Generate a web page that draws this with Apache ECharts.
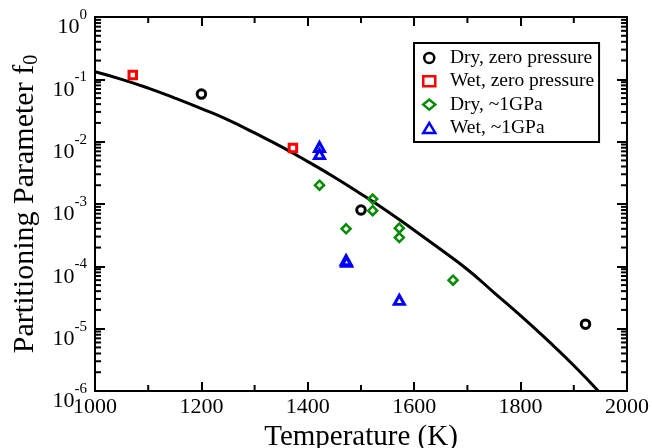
<!DOCTYPE html>
<html><head><meta charset="utf-8">
<script src="https://cdn.jsdelivr.net/npm/echarts@6/dist/echarts.min.js"></script>
<style>html,body{margin:0;padding:0;background:#fff}#c{width:652px;height:448px}</style>
</head><body><div id="c"></div>
<script>
// ---- data ----
const curveT = [1000,1050,1100,1150,1200,1250,1300,1350,1400,1450,1500,1550,1600,1650,1700,1750,1800,1850,1900,1946];
const curveF = [0.132,0.100,0.0724,0.0501,0.0339,0.0224,0.0138,0.00832,0.00479,0.00269,0.00145,7.6e-4,3.8e-4,1.86e-4,8.9e-5,3.8e-5,1.62e-5,6.6e-6,2.57e-6,1.0e-6];

const dryZeroT = [1200,1500,1922];
const dryZeroF = [0.058,8.0e-4,1.18e-5];
const wetZeroT = [1071,1372];
const wetZeroF = [0.117,0.0079];
const dryGPaT = [1422,1472,1522,1522,1572,1572,1673];
const dryGPaF = [0.0020,4.0e-4,1.2e-3,7.8e-4,4.1e-4,2.9e-4,6.0e-5];
const wetGPaT = [1422,1422,1472,1473,1572];
const wetGPaF = [0.0082,0.0063,1.25e-4,1.18e-4,2.9e-5];

const seriesNames = ['Dry, zero pressure','Wet, zero pressure','Dry, ~1GPa','Wet, ~1GPa'];
const xTickValues = [1000,1200,1400,1600,1800,2000];
const xMinorValues = [1100,1300,1500,1700,1900];
const yDecades = [-6,-5,-4,-3,-2,-1,0];
const yMinorMantissas = [2,3,4,5,6,7,8,9];

// ---- build ----
const serif = '"Liberation Serif", "Times New Roman", serif';
const zip = (a,b) => a.map((v,i)=>[v,b[i]]);
const xMin = xTickValues[0], xMax = xTickValues[xTickValues.length-1];
const yMin = 1e-6, yMax = 1;
const yMinor = [];
yDecades.slice(0,-1).forEach(e => yMinorMantissas.forEach(m => yMinor.push(Number((m*Math.pow(10,e)).toPrecision(3)))));

const black = '#000';
const lineSt = {color: black, width: 2};
function xAx(pos, labels) {
  return {
    type:'value', position:pos, min:xMin, max:xMax, interval:200,
    axisLine:{show:true, onZero:false, lineStyle:lineSt},
    axisTick:{show:true, inside:true, length:9, lineStyle:lineSt},
    minorTick:{show:false},
    axisLabel:{show:labels, fontSize:22, fontFamily:serif, color:black, margin:5, showMinLabel:true, showMaxLabel:true,
      formatter: v => String(v)},
    splitLine:{show:false}, minorSplitLine:{show:false}
  };
}
function yAx(pos, labels) {
  const a = {
    type:'log', logBase:10, position:pos, min:yMin, max:yMax,
    axisLine:{show:true, onZero:false, lineStyle:lineSt},
    axisTick:{show:true, inside:true, length:10, lineStyle:lineSt},
    axisLabel:{show:false},
    splitLine:{show:false}, minorTick:{show:false}, minorSplitLine:{show:false}
  };
  if (labels) {
    a.axisLabel = {
      show:true, margin:8, showMinLabel:true, showMaxLabel:true,
      padding:[12,0,0,0],
      formatter: v => '{b|10}{s|' + Math.round(Math.log10(v)) + '}',
      rich:{
        b:{fontSize:22, fontFamily:serif, color:black, padding:[9,0,0,0]},
        s:{fontSize:15, fontFamily:serif, color:black, verticalAlign:'top'}
      }
    };
    a.name = '{t|Partitioning Parameter f}{u|0}';
    a.nameLocation = 'middle';
    a.nameGap = 52;
    a.nameRotate = 90;
    a.nameTextStyle = {
      rich:{
        t:{fontSize:30, fontFamily:serif, color:black},
        u:{fontSize:20, fontFamily:serif, color:black, padding:[12,0,0,0]}
      }
    };
  }
  return a;
}

const xAxes = [xAx('bottom', true), xAx('top', false)];
xAxes[0].name = 'Temperature (K)';
xAxes[0].nameLocation = 'middle';
xAxes[0].nameGap = 15;
xAxes[0].nameTextStyle = {fontSize:29, fontFamily:serif, color:black};

// minor ticks: each item is one short segment located through the axis scales
function minorTickSeries(values, toPoint, dx, dy) {
  return {
    type:'custom', coordinateSystem:'cartesian2d', clip:false, silent:true,
    data: values.map(v => toPoint(v)),
    renderItem:(params, api) => {
      const p = api.coord([api.value(0), api.value(1)]);
      return {type:'line', shape:{x1:p[0], y1:p[1], x2:p[0]+dx, y2:p[1]+dy},
              style:{stroke:black, lineWidth:2}};
    }
  };
}

const hollow = 'rgba(255,255,255,0)';
const option = {
  animation:false,
  backgroundColor:'#fff',
  textStyle:{fontFamily:serif, color:black},
  grid:{left:95, right:25, top:17, bottom:57, containLabel:false, outerBoundsMode:'none'},
  legend:{
    orient:'vertical', left:414, top:43, padding:[5,5,4,8], itemGap:3.3,
    itemWidth:12, itemHeight:10, borderColor:black, borderWidth:2, backgroundColor:'#fff',
    textStyle:{fontSize:19.5, fontFamily:serif, color:black},
    formatter: n => '\u2002' + n,
    itemStyle:{borderWidth:2.5},
    data:seriesNames
  },
  xAxis:xAxes,
  yAxis:[yAx('left',true), yAx('right',false)],
  series:[
    {type:'line', data:zip(curveT,curveF), showSymbol:false, symbol:'none', smooth:0.5,
     lineStyle:{color:black, width:3}, clip:true, z:2, silent:true},
    {name:seriesNames[0], type:'scatter', data:zip(dryZeroT,dryZeroF), symbol:'circle', symbolSize:8.5,
     itemStyle:{color:hollow, borderColor:black, borderWidth:3, opacity:1}, z:3},
    {name:seriesNames[1], type:'scatter', data:zip(wetZeroT,wetZeroF), symbol:'rect', symbolSize:7.5,
     itemStyle:{color:hollow, borderColor:'#ff0000', borderWidth:3, opacity:1}, z:3},
    {name:seriesNames[2], type:'scatter', data:zip(dryGPaT,dryGPaF), symbol:'diamond', symbolSize:9,
     itemStyle:{color:hollow, borderColor:'#008b00', borderWidth:2.5, opacity:1}, z:3},
    {name:seriesNames[3], type:'scatter', data:zip(wetGPaT,wetGPaF), symbol:'triangle', symbolSize:[10,9],
     itemStyle:{color:hollow, borderColor:'#0000ff', borderWidth:3, opacity:1}, z:3},
    minorTickSeries(yMinor, v => [xMin, v], 6, 0),
    minorTickSeries(yMinor, v => [xMax, v], -6, 0),
    minorTickSeries(xMinorValues, v => [v, yMin], 0, -6),
    minorTickSeries(xMinorValues, v => [v, yMax], 0, 6)
  ]
};
const chart = echarts.init(document.getElementById('c'), null, {renderer:'canvas'});
chart.setOption(option);
</script>
</body></html>
